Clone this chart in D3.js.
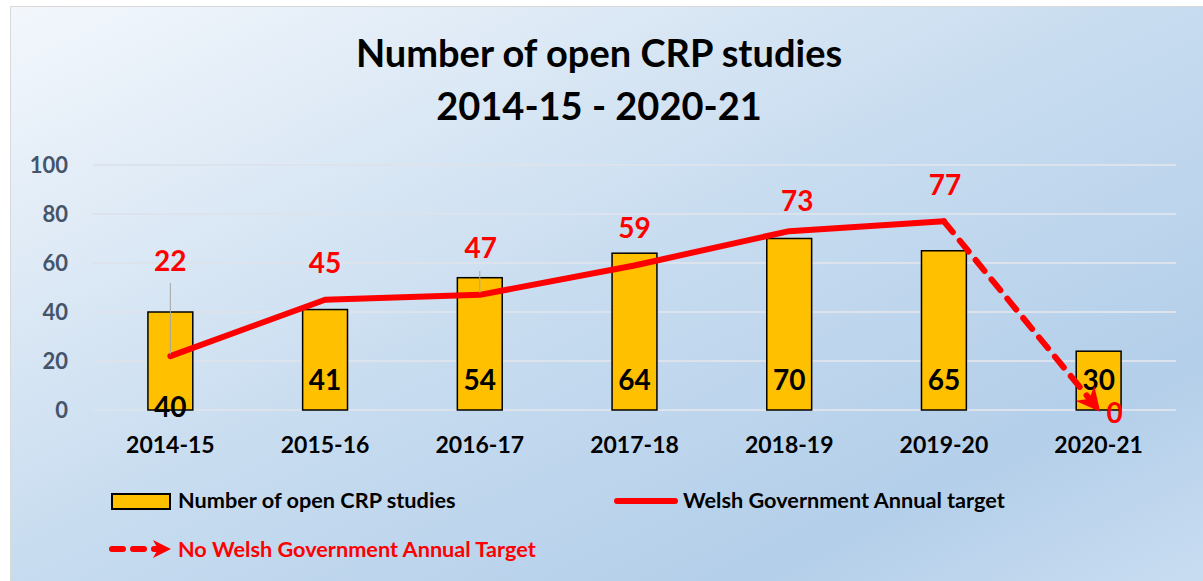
<!DOCTYPE html>
<html>
<head>
<meta charset="utf-8">
<script src="https://cdn.jsdelivr.net/npm/d3@7"></script>
<style>
  body { margin: 0; background: #fff; }
  svg text { font-family: Lato, "Noto Sans", sans-serif; font-weight: bold; }
</style>
</head>
<body>
<div id="chart"></div>
<script>
// data
const years = ["2014-15", "2015-16", "2016-17", "2017-18", "2018-19", "2019-20", "2020-21"];
const openStudies = [40, 41, 54, 64, 70, 65, 24];
const openStudyLabels = ["40", "41", "54", "64", "70", "65", "30"];
const annualTarget = [22, 45, 47, 59, 73, 77, 0];
const yTicks = [0, 20, 40, 60, 80, 100];
const titleLines = ["Number of open CRP studies", "2014-15 - 2020-21"];

const W = 1203, H = 581;
const plot = {left: 93, right: 1176, top: 165, bottom: 410};

const svg = d3.select("#chart")
    .append("svg")
    .attr("width", W)
    .attr("height", H);

const defs = svg.append("defs");
const grad = defs.append("linearGradient")
    .attr("id", "bg")
    .attr("x1", 0).attr("y1", 0).attr("x2", 1).attr("y2", 1);
grad.append("stop").attr("offset", 0).attr("stop-color", "#F3F7FC");
grad.append("stop").attr("offset", 0.5).attr("stop-color", "#C6DBEF");
grad.append("stop").attr("offset", 0.8).attr("stop-color", "#B4CFEA");
grad.append("stop").attr("offset", 1).attr("stop-color", "#C9DDF1");

defs.append("marker")
    .attr("id", "arrow")
    .attr("viewBox", "0 0 10 10")
    .attr("refX", 9).attr("refY", 5)
    .attr("markerWidth", 4).attr("markerHeight", 4)
    .attr("markerUnits", "strokeWidth")
    .attr("orient", "auto")
  .append("path")
    .attr("d", "M0,0 L10,5 L0,10 L3,5 Z")
    .attr("fill", "#FF0000");

// chart area background
svg.append("rect")
    .attr("x", 10.5).attr("y", 6.5)
    .attr("width", 1200).attr("height", 580)
    .attr("fill", "url(#bg)")
    .attr("stroke", "#D9D9D9");

// title
svg.selectAll(".title")
    .data(titleLines)
    .join("text")
    .attr("class", "title")
    .attr("x", 599)
    .attr("y", (d, i) => 67 + i * 53)
    .attr("text-anchor", "middle")
    .attr("font-size", 38)
    .attr("fill", "#000")
    .text(d => d);

// scales
const xScale = d3.scaleBand()
    .domain(years)
    .range([plot.left, plot.right])
    .paddingInner(0.71)
    .paddingOuter(0.355);

const yScale = d3.scaleLinear()
    .domain([0, 100])
    .range([plot.bottom, plot.top]);

const cx = d => xScale(d) + xScale.bandwidth() / 2;

// gridlines
svg.append("g")
    .selectAll("line")
    .data(yTicks)
    .join("line")
    .attr("x1", plot.left).attr("x2", plot.right)
    .attr("y1", d => yScale(d)).attr("y2", d => yScale(d))
    .attr("stroke", "#DCE3EC")
    .attr("stroke-width", 2);

// y axis
const yAxis = d3.axisLeft(yScale).tickValues(yTicks).tickSize(0).tickPadding(0);
const yAxisGroup = svg.append("g")
    .attr("transform", "translate(68,0)")
    .call(yAxis);
yAxisGroup.select(".domain").remove();
yAxisGroup.selectAll("text")
    .attr("font-size", 22)
    .attr("fill", "#44546A")
    .attr("dy", "0.35em");

// x axis
const xAxis = d3.axisBottom(xScale).tickSize(0).tickPadding(0);
const xAxisGroup = svg.append("g")
    .attr("transform", `translate(0,${plot.bottom})`)
    .call(xAxis);
xAxisGroup.select(".domain").remove();
xAxisGroup.selectAll("text")
    .attr("font-size", 23)
    .attr("fill", "#000")
    .attr("dy", 0)
    .attr("y", 43);

// bars
svg.append("g")
    .selectAll("rect")
    .data(years)
    .join("rect")
    .attr("x", d => xScale(d))
    .attr("y", (d, i) => yScale(openStudies[i]))
    .attr("width", xScale.bandwidth())
    .attr("height", (d, i) => yScale(0) - yScale(openStudies[i]))
    .attr("fill", "#FFC000")
    .attr("stroke", "#000")
    .attr("stroke-width", 1.5);

// bar labels (first one sits over the base)
const barLabelBase = [417, 390, 390, 390, 390, 390, 390];
svg.append("g")
    .selectAll("text")
    .data(years)
    .join("text")
    .attr("x", d => cx(d))
    .attr("y", (d, i) => barLabelBase[i])
    .attr("text-anchor", "middle")
    .attr("font-size", 28)
    .attr("fill", "#000")
    .text((d, i) => openStudyLabels[i]);

// target line: solid part, then dashed drop with arrow
const pts = years.map((d, i) => [cx(d), yScale(annualTarget[i])]);
const line = d3.line();

svg.append("path")
    .attr("d", line(pts.slice(0, 6)))
    .attr("fill", "none")
    .attr("stroke", "#FF0000")
    .attr("stroke-width", 6)
    .attr("stroke-linejoin", "round")
    .attr("stroke-linecap", "round");

svg.append("path")
    .attr("d", line(pts.slice(5)))
    .attr("fill", "none")
    .attr("stroke", "#FF0000")
    .attr("stroke-width", 6)
    .attr("stroke-linecap", "round")
    .attr("stroke-dasharray", "14 11")
    .attr("marker-end", "url(#arrow)");

// leader lines for moved labels
const leaders = [[0, 283], [2, 271]];
svg.append("g")
    .selectAll("line")
    .data(leaders)
    .join("line")
    .attr("x1", d => pts[d[0]][0]).attr("x2", d => pts[d[0]][0])
    .attr("y1", d => d[1]).attr("y2", d => pts[d[0]][1] - 2)
    .attr("stroke", "#A6A6A6")
    .attr("stroke-width", 1);

// target labels
const targetDy = [-85, -27, -37, -27, -20, -26, 13];
const targetDx = [0, 0, 1, 0, 8, 1, 16];
svg.append("g")
    .selectAll("text")
    .data(annualTarget)
    .join("text")
    .attr("x", (d, i) => pts[i][0] + targetDx[i])
    .attr("y", (d, i) => pts[i][1] + targetDy[i])
    .attr("text-anchor", "middle")
    .attr("font-size", 28)
    .attr("fill", "#FF0000")
    .text(d => d);

// legend
const legend = svg.append("g");
legend.append("rect")
    .attr("x", 112).attr("y", 494)
    .attr("width", 58).attr("height", 15)
    .attr("fill", "#FFC000")
    .attr("stroke", "#000")
    .attr("stroke-width", 2);
legend.append("text")
    .attr("x", 178).attr("y", 508)
    .attr("font-size", 21.7)
    .attr("fill", "#000")
    .text("Number of open CRP studies");

legend.append("line")
    .attr("x1", 617).attr("x2", 675)
    .attr("y1", 501).attr("y2", 501)
    .attr("stroke", "#FF0000")
    .attr("stroke-width", 6)
    .attr("stroke-linecap", "round");
legend.append("text")
    .attr("x", 683).attr("y", 508)
    .attr("font-size", 21.7)
    .attr("fill", "#000")
    .text("Welsh Government Annual target");

legend.append("line")
    .attr("x1", 112).attr("x2", 160)
    .attr("y1", 549).attr("y2", 549)
    .attr("stroke", "#FF0000")
    .attr("stroke-width", 6)
    .attr("stroke-linecap", "round")
    .attr("stroke-dasharray", "11 10");
legend.append("path")
    .attr("d", "M153,540 L171,549 L153,558 L158,549 Z")
    .attr("fill", "#FF0000");
legend.append("text")
    .attr("x", 178).attr("y", 557)
    .attr("font-size", 21.7)
    .attr("fill", "#FF0000")
    .text("No Welsh Government Annual Target");
</script>
</body>
</html>
